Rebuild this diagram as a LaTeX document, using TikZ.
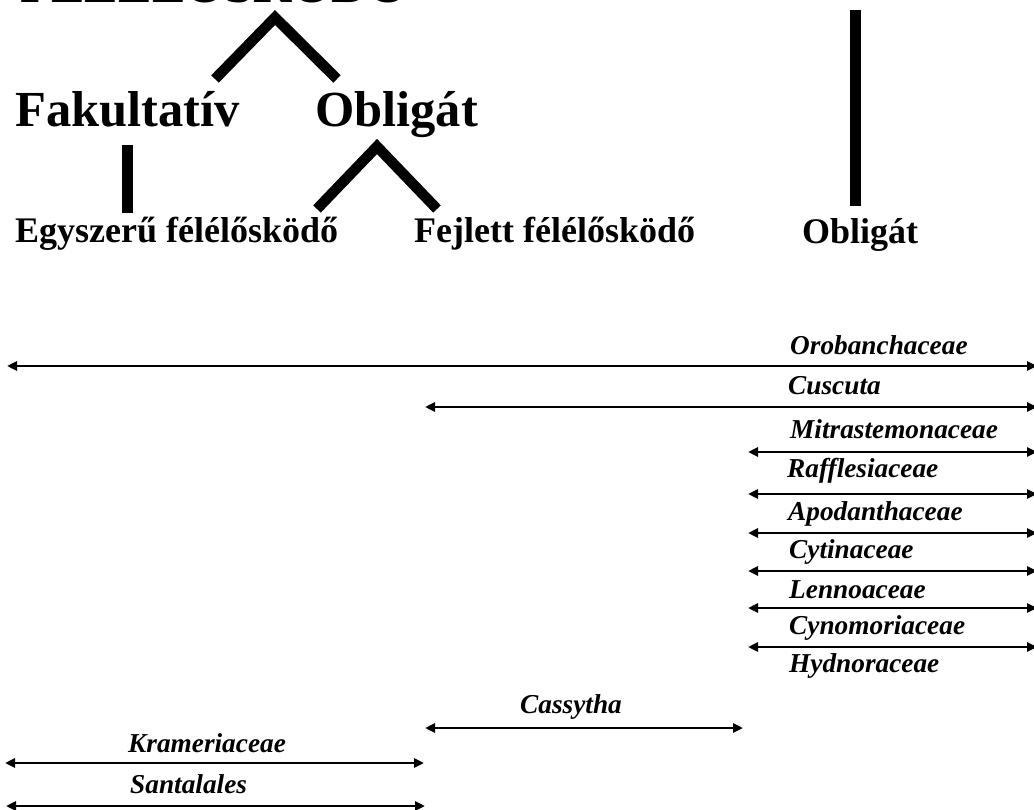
\documentclass[tikz,border=0pt]{standalone}
\usepackage{fontspec}
\setmainfont{Liberation Serif}
\usetikzlibrary{arrows.meta}
\begin{document}
\begin{tikzpicture}[x=1pt,y=-1pt,
  bar/.style={line width=10.5pt, line cap=butt, line join=miter},
  spanarrow/.style={line width=2.6pt, {Triangle[length=10pt,width=9pt]}-{Triangle[length=10pt,width=9pt]}},
  big/.style={font=\fontsize{50.5}{60}\selectfont\bfseries, inner sep=0pt, anchor=base west},
  mid/.style={font=\fontsize{36}{43}\selectfont\bfseries, inner sep=0pt, anchor=base west},
  tax/.style={font=\fontsize{27.3}{32}\selectfont\bfseries\itshape, inner sep=0pt, anchor=base west},
]
\useasboundingbox (0,0) rectangle (1034,810);
\fill[white] (0,0) rectangle (1034,810);
% clipped heading at top
\begin{scope}
\clip (0,0) rectangle (1034,810);
\node[big] (head) at (20,2.5) {FÉLÉLŐSKÖDŐ};
\end{scope}
% tree labels
\node[big] (fak) at (15,127) {Fakultatív};
\node[big] (obl) at (315,127) {Obligát};
\node[mid] (egy) at (15,243) {Egyszerű félélősködő};
\node[mid] (fej) at (414,243) {Fejlett félélősködő};
\node[mid] (obr) at (802,244) {Obligát};
% tree connectors
\coordinate (a1) at (275,17.5);
\coordinate (a1l) at (215,79);
\coordinate (a1r) at (337,79);
\draw[bar] (a1l) -- (a1) -- (a1r);
\coordinate (a2) at (377,146.5);
\coordinate (a2l) at (317,209);
\coordinate (a2r) at (437,209);
\draw[bar] (a2l) -- (a2) -- (a2r);
\coordinate (v1t) at (127.5,145);
\coordinate (v1b) at (127.5,213);
\draw[bar,line width=11pt] (v1t) -- (v1b);
\coordinate (v2t) at (855,10);
\coordinate (v2b) at (855,206);
\draw[bar,line width=11pt] (v2t) -- (v2b);
% taxa
\node[tax] (oro) at (790,355) {Orobanchaceae};
\coordinate (oroL) at (7,366); \coordinate (oroR) at (1037,366);
\draw[spanarrow] (oroL) -- (oroR);
\node[tax] (cus) at (788,395) {Cuscuta};
\coordinate (cusL) at (425,407); \coordinate (cusR) at (1037,407);
\draw[spanarrow] (cusL) -- (cusR);
\node[tax] (mit) at (790,438) {Mitrastemonaceae};
\coordinate (mitL) at (748,452); \coordinate (mitR) at (1037,452);
\draw[spanarrow] (mitL) -- (mitR);
\node[tax] (raf) at (787,477) {Rafflesiaceae};
\coordinate (rafL) at (748,494); \coordinate (rafR) at (1037,494);
\draw[spanarrow] (rafL) -- (rafR);
\node[tax] (apo) at (788,520) {Apodanthaceae};
\coordinate (apoL) at (748,533); \coordinate (apoR) at (1037,533);
\draw[spanarrow] (apoL) -- (apoR);
\node[tax] (cyt) at (789,558) {Cytinaceae};
\coordinate (cytL) at (748,571); \coordinate (cytR) at (1037,571);
\draw[spanarrow] (cytL) -- (cytR);
\node[tax] (len) at (789,598) {Lennoaceae};
\coordinate (lenL) at (748,608); \coordinate (lenR) at (1037,608);
\draw[spanarrow] (lenL) -- (lenR);
\node[tax] (cyn) at (789,634) {Cynomoriaceae};
\coordinate (cynL) at (748,647); \coordinate (cynR) at (1037,647);
\draw[spanarrow] (cynL) -- (cynR);
\node[tax] (hyd) at (789,672) {Hydnoraceae};
\node[tax] (cas) at (520,713) {Cassytha};
\coordinate (casL) at (425,728); \coordinate (casR) at (743,728);
\draw[spanarrow] (casL) -- (casR);
\node[tax] (kra) at (128,752) {Krameriaceae};
\coordinate (kraL) at (5,763); \coordinate (kraR) at (424,763);
\draw[spanarrow] (kraL) -- (kraR);
\node[tax] (san) at (130,793) {Santalales};
\coordinate (sanL) at (6,806); \coordinate (sanR) at (425,806);
\draw[spanarrow] (sanL) -- (sanR);
\end{tikzpicture}
\end{document}
